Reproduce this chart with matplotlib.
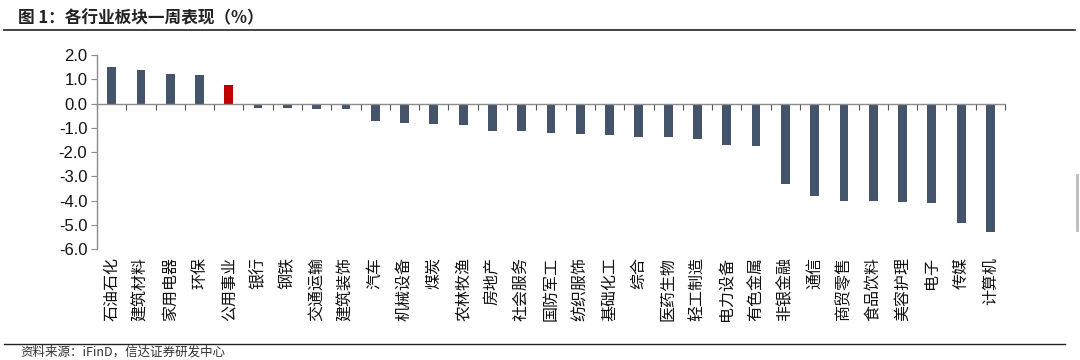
import numpy as np
import matplotlib
matplotlib.use("Agg")
import matplotlib.pyplot as plt
from matplotlib.lines import Line2D

plt.rcParams['font.family'] = ['Liberation Sans', 'Noto Sans CJK SC', 'DejaVu Sans']

# data (weekly change, %)
industries = ['石油石化', '建筑材料', '家用电器', '环保', '公用事业', '银行', '钢铁',
              '交通运输', '建筑装饰', '汽车', '机械设备', '煤炭', '农林牧渔', '房地产',
              '社会服务', '国防军工', '纺织服饰', '基础化工', '综合', '医药生物',
              '轻工制造', '电力设备', '有色金属', '非银金融', '通信', '商贸零售',
              '食品饮料', '美容护理', '电子', '传媒', '计算机']
changes = [1.50, 1.38, 1.20, 1.16, 0.77, -0.19, -0.19, -0.23, -0.23, -0.72, -0.80,
           -0.83, -0.90, -1.15, -1.15, -1.20, -1.27, -1.31, -1.39, -1.39, -1.46,
           -1.69, -1.74, -3.33, -3.81, -4.02, -4.02, -4.06, -4.11, -4.94, -5.30]
highlight = '公用事业'
yticks = np.arange(-6.0, 2.01, 1.0)

fig = plt.figure(figsize=(10.8, 3.6), dpi=100)
ax = fig.add_axes([0.0898, 0.308, 0.8408, 0.539])

x = np.arange(len(industries))
colors = ['#C00000' if n == highlight else '#44546A' for n in industries]
ax.bar(x, changes, width=0.3, color=colors, zorder=2)

ax.set_xlim(-0.5, len(industries) - 0.5)
ax.set_ylim(-6.0, 2.0)

# spines
for s in ['top', 'right']:
    ax.spines[s].set_visible(False)
ax.spines['bottom'].set_position(('data', 0))
ax.spines['bottom'].set_color('#8C8C8C')
ax.spines['left'].set_color('#8C8C8C')
ax.spines['bottom'].set_linewidth(1.0)
ax.spines['left'].set_linewidth(1.0)

ax.set_yticks(yticks)
ax.set_yticklabels(['%.1f' % v for v in yticks], fontsize=12, color='#111111')
ax.tick_params(axis='y', direction='out', length=4, color='#8C8C8C', pad=3)

# ticks at category boundaries, labels placed under the plot
ax.set_xticks(np.arange(-0.5, len(industries), 1.0))
ax.set_xticklabels([])
ax.tick_params(axis='x', direction='out', length=4, color='#555555')

for i, name in enumerate(industries):
    ax.annotate(name, xy=(i, 0), xycoords=('data', 'axes fraction'),
                xytext=(0, -6), textcoords='offset points',
                rotation=90, ha='center', va='top', fontsize=11.5,
                family=['Noto Sans CJK SC', 'DejaVu Sans'], color='#111111')

# title, rules and source
fig.text(18 / 1080, 1 - 18 / 360, '图 1：各行业板块一周表现（%）', fontsize=12,
         fontweight='bold', ha='left', va='center', color='#222222',
         family=['Noto Sans CJK SC', 'DejaVu Sans'])
fig.add_artist(Line2D([4 / 1080, 1075 / 1080], [1 - 30 / 360, 1 - 30 / 360],
                      color='#222222', lw=1.2))
fig.add_artist(Line2D([4 / 1080, 1065 / 1080], [1 - 344 / 360, 1 - 344 / 360],
                      color='#222222', lw=1.0))
fig.text(20 / 1080, 1 / 360, '资料来源：iFinD，信达证券研发中心', fontsize=9,
         style='italic', ha='left', va='bottom', color='#333333',
         family=['Noto Sans CJK SC', 'DejaVu Sans'])
fig.add_artist(Line2D([1077 / 1080, 1077 / 1080], [1 - 175 / 360, 1 - 230 / 360],
                      color='#BBBBBB', lw=2))

fig.savefig('out.png', dpi=100)
